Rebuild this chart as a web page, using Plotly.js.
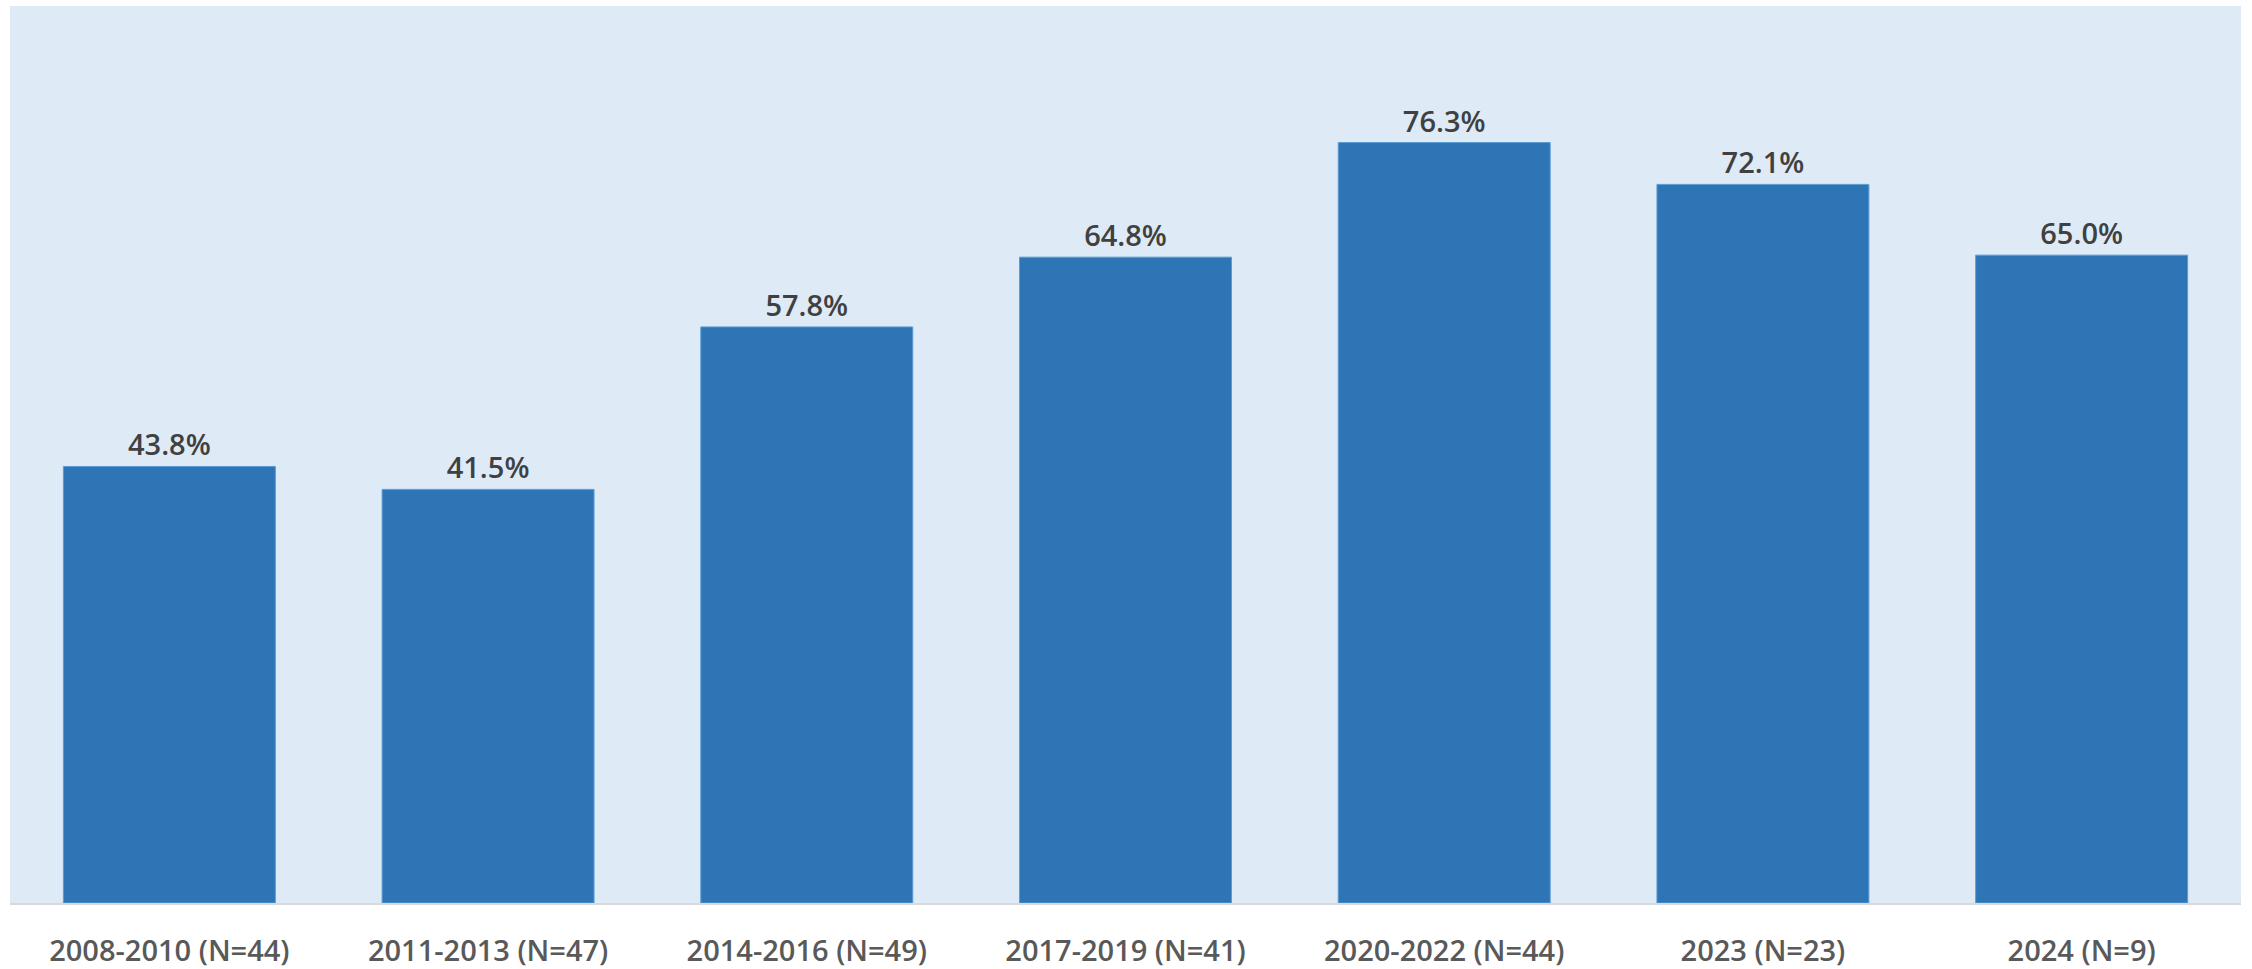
<!DOCTYPE html>
<html>
<head>
<meta charset="utf-8">
<script src="https://cdn.plot.ly/plotly-3.0.1.min.js"></script>
<style>
  html, body { margin: 0; padding: 0; background: #ffffff; }
  #chart { width: 2252px; height: 969px; }
</style>
</head>
<body>
<div id="chart"></div>
<script>
// Share by period, with sample sizes in the category labels
const periods = ["2008-2010 (N=44)", "2011-2013 (N=47)", "2014-2016 (N=49)", "2017-2019 (N=41)", "2020-2022 (N=44)", "2023 (N=23)", "2024 (N=9)"];
const shares = [43.8, 41.5, 57.8, 64.8, 76.3, 72.1, 65.0];

const FONT = "Open Sans, Noto Sans, sans-serif";

const trace = {
  type: "bar",
  x: periods,
  y: shares,
  marker: { color: "#2E75B6", line: { color: "#5B9BD5", width: 1 } },
  texttemplate: "%{y:.1f}%",
  textposition: "outside",
  cliponaxis: false,
  textfont: { family: FONT, size: 29, color: "#404040", weight: 600 },
  hoverinfo: "x+y"
};

const layout = {
  width: 2252,
  height: 969,
  margin: { l: 10, r: 11, t: 6, b: 66 },
  paper_bgcolor: "#ffffff",
  plot_bgcolor: "#DEEAF6",
  bargap: 0.335,
  showlegend: false,
  xaxis: {
    type: "category",
    showgrid: false,
    showline: true,
    linecolor: "#D9D9D9",
    linewidth: 2,
    ticks: "",
    ticklabelstandoff: 21,
    tickfont: { family: FONT, size: 29, color: "#595959", weight: 600 },
    fixedrange: true
  },
  yaxis: {
    range: [0, 90],
    showgrid: false,
    zeroline: false,
    showticklabels: false,
    showline: false,
    fixedrange: true
  }
};

Plotly.newPlot("chart", [trace], layout, { displayModeBar: false, staticPlot: true });
</script>
</body>
</html>
